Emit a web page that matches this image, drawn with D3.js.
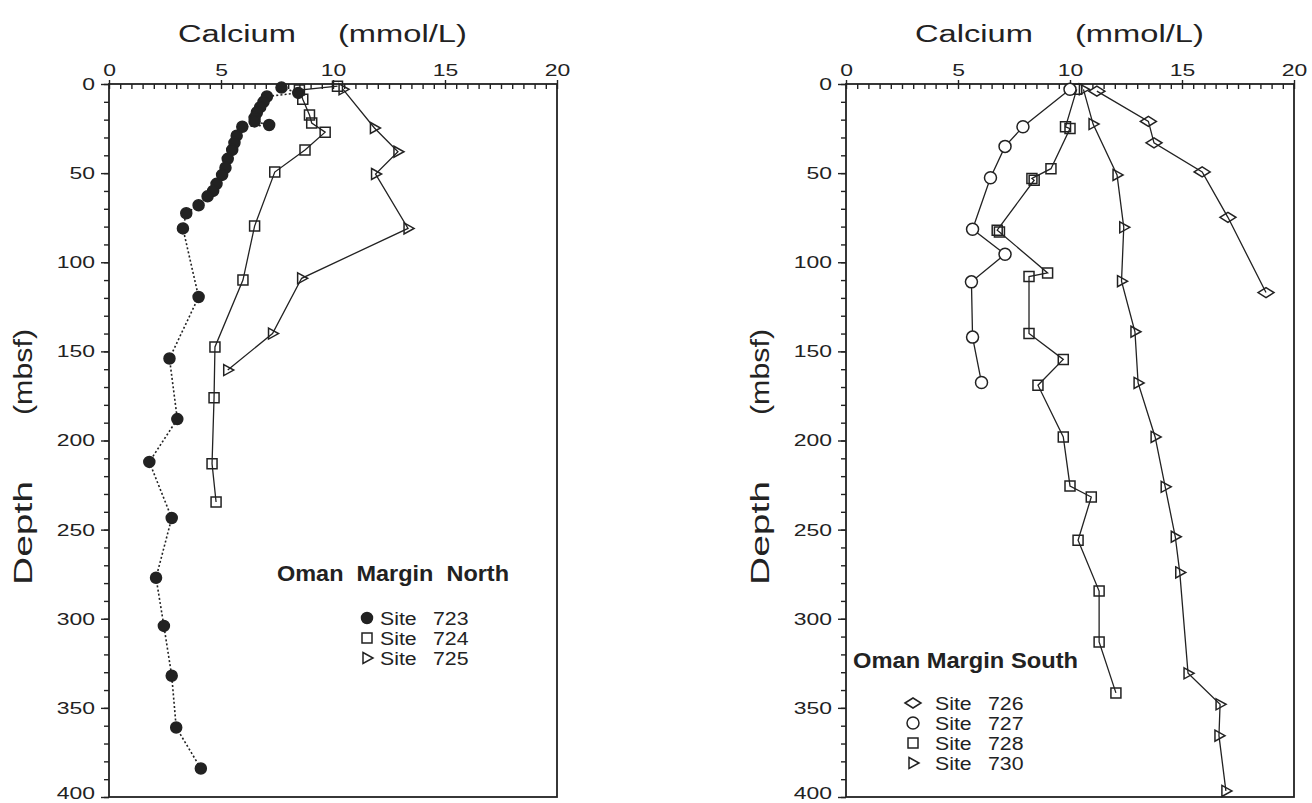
<!DOCTYPE html>
<html>
<head>
<meta charset="utf-8">
<script src="https://cdn.jsdelivr.net/npm/d3@7"></script>
<style>
  html, body { margin: 0; padding: 0; background: #fff; }
  svg text { font-family: "Liberation Sans", Arial, Helvetica, sans-serif; fill: #222; white-space: pre; }
</style>
</head>
<body>
<svg id="chart" width="1312" height="803"></svg>
<script>
// ---- tick values ----
const caMajorTicks = [0, 5, 10, 15, 20];
const depthMajorTicks = [0, 50, 100, 150, 200, 250, 300, 350, 400];

// ---- Oman Margin North: calcium (mmol/L) vs depth (mbsf) ----
const site723Depth = [2, 5, 7, 10, 13, 16, 19, 21, 23, 24, 29, 33, 37, 42, 47, 51, 56, 60, 63, 68, 72.5, 81, 119.5, 154, 188, 212, 243.5, 277, 304, 332, 361, 384];
const site723Ca    = [7.7, 8.45, 7.05, 6.9, 6.75, 6.6, 6.5, 6.5, 7.15, 5.95, 5.7, 5.6, 5.5, 5.3, 5.2, 5.05, 4.8, 4.65, 4.4, 4.0, 3.45, 3.3, 4.0, 2.7, 3.05, 1.8, 2.8, 2.1, 2.45, 2.8, 3.0, 4.1];

const site724Depth = [1.2, 3.4, 8.5, 17.4, 21.9, 27, 37, 49.4, 79.7, 110, 147.5, 176, 213, 234.5];
const site724Ca    = [10.2, 8.5, 8.65, 8.95, 9.05, 9.65, 8.75, 7.4, 6.5, 5.98, 4.73, 4.69, 4.6, 4.78];

const site725Depth = [3, 24.7, 38, 50.5, 81, 109, 140, 160.5];
const site725Ca    = [10.45, 11.85, 12.9, 11.9, 13.35, 8.6, 7.3, 5.3];

// ---- Oman Margin South ----
const site726Depth = [4, 21, 33, 49.3, 74.8, 117];
const site726Ca    = [11.2, 13.5, 13.75, 15.9, 17.05, 18.75];

const site727Depth = [3, 24, 35, 52.6, 81.5, 95.5, 111, 142, 167.5];
const site727Ca    = [10.0, 7.9, 7.1, 6.45, 5.65, 7.1, 5.6, 5.65, 6.05];

const site728Depth = [3, 24, 25, 47.5, 53, 54, 82, 83, 106, 108, 140, 154.5, 169, 198, 225.5, 231.7, 256, 284.5, 313, 341.6];
const site728Ca    = [10.3, 9.8, 10.0, 9.15, 8.3, 8.4, 6.75, 6.85, 9.0, 8.17, 8.17, 9.7, 8.57, 9.7, 10.0, 10.95, 10.36, 11.3, 11.3, 12.05];

const site730Depth = [3, 22.5, 51, 80.4, 110.6, 139, 167.7, 198, 226, 254, 274, 330.6, 348, 365.6, 396.6];
const site730Ca    = [10.6, 11.03, 12.1, 12.4, 12.3, 12.9, 13.04, 13.8, 14.25, 14.7, 14.9, 15.27, 16.7, 16.65, 16.96];

const INK = "#222";
const svg = d3.select("#chart");

// marker path builders (centred on 0,0)
const markers = {
  filledCircle: { path: () => d3.symbol(d3.symbolCircle, Math.PI * 5.5 * 5.5)(), fill: INK },
  square:       { path: () => "M-5,-5H5V5H-5Z", fill: "none" },
  triangle:     { path: () => "M-4,-5.5L6,0L-4,5.5Z", fill: "none" },
  circle:       { path: () => d3.symbol(d3.symbolCircle, Math.PI * 6 * 6)(), fill: "#fff" },
  diamond:      { path: () => "M-8,0L0,-5L8,0L0,5Z", fill: "none" }
};

function stretchedText(g, x, y, str, size, sx, opts = {}) {
  return g.append("text")
    .attr("transform", `translate(${x},${y}) scale(${sx},1)`)
    .attr("font-size", size)
    .attr("font-weight", opts.bold ? "bold" : null)
    .attr("text-anchor", opts.anchor || "start")
    .text(str);
}

function drawPanel(x, y) {
  const g = svg.append("g");
  const [x0, x1] = x.range();
  const [y0, y1] = y.range();

  // top axis: minor ticks hang inward, major ticks cross the line
  const minorTop = g.append("g").attr("transform", `translate(0,${y0})`)
    .call(d3.axisTop(x).tickValues(d3.range(0, 20.01, 0.5)).tickSize(-5).tickFormat(""));
  const majorTop = g.append("g").attr("transform", `translate(0,${y0})`)
    .call(d3.axisTop(x).tickValues(caMajorTicks).tickSize(4).tickPadding(4));
  majorTop.selectAll("text").attr("font-size", 17).attr("transform", "scale(1.35,1)")
    .attr("fill", INK).attr("font-family", "Liberation Sans, Arial, sans-serif");

  // left axis: ticks point outward
  const minorLeft = g.append("g").attr("transform", `translate(${x0},0)`)
    .call(d3.axisLeft(y).tickValues(d3.range(0, 401, 10)).tickSize(5).tickFormat(""));
  const majorLeft = g.append("g").attr("transform", `translate(${x0},0)`)
    .call(d3.axisLeft(y).tickValues(depthMajorTicks).tickSize(8).tickPadding(6));
  majorLeft.selectAll("text").attr("font-size", 17).attr("x", -14 / 1.35)
    .attr("transform", "scale(1.35,1)")
    .attr("fill", INK).attr("font-family", "Liberation Sans, Arial, sans-serif");
  // keep the bottom label inside the page
  majorLeft.selectAll("text").filter(d => d === 400).attr("dy", "0.1em");

  [minorTop, majorTop, minorLeft, majorLeft].forEach(a => {
    a.select(".domain").remove();
    a.selectAll("line").attr("stroke", INK).attr("stroke-width", 1.4);
  });

  // frame
  g.append("rect").attr("x", x0).attr("y", y0).attr("width", x1 - x0).attr("height", y1 - y0)
    .attr("fill", "none").attr("stroke", INK).attr("stroke-width", 1.8);

  // titles
  stretchedText(g, x0 + 69, 42, "Calcium", 23, 1.42);
  stretchedText(g, x0 + 229, 42, "(mmol/L)", 23, 1.42);

  const yl = g.append("g");
  yl.append("text").attr("transform", `translate(${x0 - 77},585) rotate(-90)`)
    .attr("font-size", 25).attr("textLength", 104).attr("lengthAdjust", "spacingAndGlyphs").text("Depth");
  yl.append("text").attr("transform", `translate(${x0 - 77},415) rotate(-90)`)
    .attr("font-size", 25).attr("textLength", 86).attr("lengthAdjust", "spacingAndGlyphs").text("(mbsf)");
  return g;
}

function drawSeries(g, x, y, depths, values, marker, dashed) {
  const pts = depths.map((d, i) => [x(values[i]), y(d)]);
  g.append("path")
    .attr("d", d3.line()(pts))
    .attr("fill", "none")
    .attr("stroke", INK)
    .attr("stroke-width", dashed ? 1.6 : 1.3)
    .attr("stroke-dasharray", dashed ? "2,2.2" : null);
  const m = markers[marker];
  g.selectAll(null).data(pts).enter().append("path")
    .attr("d", m.path())
    .attr("transform", p => `translate(${p[0]},${p[1]})`)
    .attr("fill", m.fill)
    .attr("stroke", INK)
    .attr("stroke-width", 1.5);
}

function drawLegendEntry(g, sx, sy, marker, label, num, textX, numX) {
  const m = markers[marker];
  g.append("path").attr("d", m.path()).attr("transform", `translate(${sx},${sy})`)
    .attr("fill", m.fill).attr("stroke", INK).attr("stroke-width", 1.5);
  stretchedText(g, textX, sy + 7, label, 19, 1.12);
  stretchedText(g, numX, sy + 7, num, 19, 1.12);
}

const yScale = d3.scaleLinear().domain([0, 400]).range([84, 797]);
const xNorth = d3.scaleLinear().domain([0, 20]).range([109, 557]);
const xSouth = d3.scaleLinear().domain([0, 20]).range([846, 1294]);

// ---- North panel ----
const gN = drawPanel(xNorth, yScale);
drawSeries(gN, xNorth, yScale, site725Depth, site725Ca, "triangle", false);
drawSeries(gN, xNorth, yScale, site724Depth, site724Ca, "square", false);
drawSeries(gN, xNorth, yScale, site723Depth, site723Ca, "filledCircle", true);

gN.append("text").attr("x", 277).attr("y", 581).attr("font-size", 22).attr("font-weight", "bold")
  .attr("textLength", 232).attr("lengthAdjust", "spacingAndGlyphs").text("Oman  Margin  North");
drawLegendEntry(gN, 367, 618, "filledCircle", "Site", "723", 380, 433);
drawLegendEntry(gN, 367, 638, "square", "Site", "724", 380, 433);
drawLegendEntry(gN, 367, 658, "triangle", "Site", "725", 380, 433);

// ---- South panel ----
const gS = drawPanel(xSouth, yScale);
drawSeries(gS, xSouth, yScale, site730Depth, site730Ca, "triangle", false);
drawSeries(gS, xSouth, yScale, site728Depth, site728Ca, "square", false);
drawSeries(gS, xSouth, yScale, site726Depth, site726Ca, "diamond", false);
drawSeries(gS, xSouth, yScale, site727Depth, site727Ca, "circle", false);

gS.append("text").attr("x", 853).attr("y", 668).attr("font-size", 22).attr("font-weight", "bold")
  .attr("textLength", 225).attr("lengthAdjust", "spacingAndGlyphs").text("Oman Margin South");
drawLegendEntry(gS, 913, 703, "diamond", "Site", "726", 935, 988);
drawLegendEntry(gS, 913, 723, "circle", "Site", "727", 935, 988);
drawLegendEntry(gS, 913, 743, "square", "Site", "728", 935, 988);
drawLegendEntry(gS, 913, 763, "triangle", "Site", "730", 935, 988);
</script>
</body>
</html>
